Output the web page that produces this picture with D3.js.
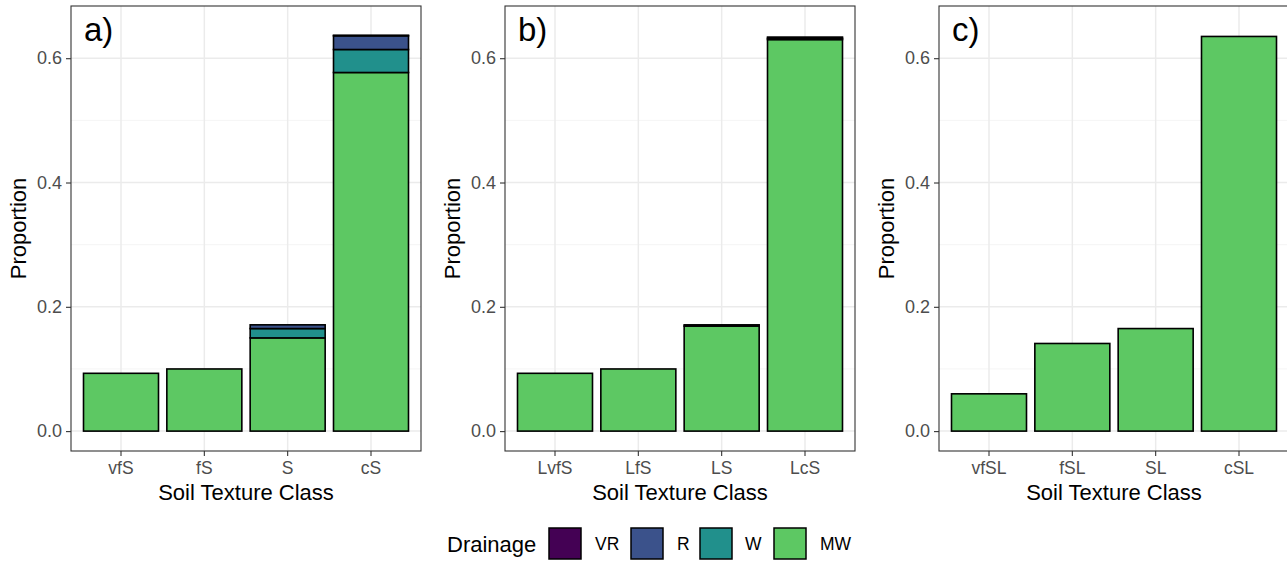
<!DOCTYPE html>
<html>
<head>
<meta charset="utf-8">
<script src="https://cdn.jsdelivr.net/npm/d3@7"></script>
<style>
  body { margin: 0; background: #fff; }
  text { font-family: "Liberation Sans", Arial, sans-serif; }
</style>
</head>
<body>
<script>
// drainage classes, stacked bottom (MW) to top (VR)
var drainage = ["VR", "R", "W", "MW"];
var drainageColors = ["#440154", "#3B528B", "#21908C", "#5DC863"];

var panelLabels = ["a)", "b)", "c)"];
var classesA = ["vfS", "fS", "S", "cS"];
var classesB = ["LvfS", "LfS", "LS", "LcS"];
var classesC = ["vfSL", "fSL", "SL", "cSL"];

// proportions per class, one array per drainage class
var aMW = [0.093, 0.100, 0.150, 0.577];
var aW  = [0, 0, 0.015, 0.037];
var aR  = [0, 0, 0.006, 0.022];
var aVR = [0, 0, 0.000, 0.001];

var bMW = [0.093, 0.100, 0.169, 0.630];
var bW  = [0, 0, 0, 0.002];
var bR  = [0, 0, 0.002, 0.002];
var bVR = [0, 0, 0, 0];

var cMW = [0.060, 0.141, 0.165, 0.635];
var cW  = [0, 0, 0, 0];
var cR  = [0, 0, 0, 0];
var cVR = [0, 0, 0, 0];

var yTicks = [0, 0.2, 0.4, 0.6];
var yMinor = [0.1, 0.3, 0.5];

function buildRows(classes, mw, w, r, vr) {
  return classes.map(function (c, i) {
    return { cls: c, MW: mw[i], W: w[i], R: r[i], VR: vr[i] };
  });
}

var panels = [
  { label: panelLabels[0], classes: classesA, rows: buildRows(classesA, aMW, aW, aR, aVR) },
  { label: panelLabels[1], classes: classesB, rows: buildRows(classesB, bMW, bW, bR, bVR) },
  { label: panelLabels[2], classes: classesC, rows: buildRows(classesC, cMW, cW, cR, cVR) }
];

var W = 1287, H = 561;
var svg = d3.select("body").append("svg").attr("width", W).attr("height", H);

var panelX = [71, 505, 939];
var pw = 350, plotTop = 6, plotBottom = 451;

var y = d3.scaleLinear().domain([-0.032, 0.684]).range([plotBottom, plotTop]);
var color = d3.scaleOrdinal().domain(drainage).range(drainageColors);
var stack = d3.stack().keys(["MW", "W", "R", "VR"]);

panels.forEach(function (p, k) {
  var x0 = panelX[k];
  var x = d3.scaleBand().domain(p.classes).range([x0, x0 + pw])
    .paddingInner(0.1).paddingOuter(0.15);
  var g = svg.append("g");

  // grid
  g.selectAll(".minor").data(yMinor).enter().append("line")
    .attr("x1", x0).attr("x2", x0 + pw)
    .attr("y1", y).attr("y2", y)
    .attr("stroke", "#F2F2F2").attr("stroke-width", 0.8);
  g.selectAll(".major").data(yTicks).enter().append("line")
    .attr("x1", x0).attr("x2", x0 + pw)
    .attr("y1", y).attr("y2", y)
    .attr("stroke", "#EBEBEB").attr("stroke-width", 1.5);
  g.selectAll(".vgrid").data(p.classes).enter().append("line")
    .attr("x1", function (d) { return x(d) + x.bandwidth() / 2; })
    .attr("x2", function (d) { return x(d) + x.bandwidth() / 2; })
    .attr("y1", plotTop).attr("y2", plotBottom)
    .attr("stroke", "#EBEBEB").attr("stroke-width", 1.5);

  // bars
  var series = stack(p.rows);
  series.forEach(function (s) {
    g.selectAll(null).data(s.filter(function (d) { return d[1] - d[0] > 0; }))
      .enter().append("rect")
      .attr("x", function (d) { return x(d.data.cls); })
      .attr("width", x.bandwidth())
      .attr("y", function (d) { return y(d[1]); })
      .attr("height", function (d) { return y(d[0]) - y(d[1]); })
      .attr("fill", color(s.key))
      .attr("stroke", "#000").attr("stroke-width", 1.6);
  });

  // border
  g.append("rect").attr("x", x0).attr("y", plotTop).attr("width", pw).attr("height", plotBottom - plotTop)
    .attr("fill", "none").attr("stroke", "#333333").attr("stroke-width", 1.1);

  // y axis
  var ya = g.append("g").attr("transform", "translate(" + x0 + ",0)")
    .call(d3.axisLeft(y).tickValues(yTicks).tickFormat(d3.format(".1f")).tickSize(5).tickPadding(4));
  ya.select(".domain").remove();
  ya.selectAll("line").attr("stroke", "#333333").attr("stroke-width", 1.1);
  ya.selectAll("text").attr("fill", "#4D4D4D").style("font-size", "18px")
    .style("font-family", "Liberation Sans, Arial, sans-serif");

  // x axis
  var xa = g.append("g").attr("transform", "translate(0," + plotBottom + ")")
    .call(d3.axisBottom(x).tickSize(5).tickPadding(6));
  xa.select(".domain").remove();
  xa.selectAll("line").attr("stroke", "#333333").attr("stroke-width", 1.1);
  xa.selectAll("text").attr("fill", "#4D4D4D").style("font-size", "17.5px")
    .style("font-family", "Liberation Sans, Arial, sans-serif");

  // titles
  g.append("text").attr("x", x0 + pw / 2).attr("y", 500)
    .attr("text-anchor", "middle").style("font-size", "22px").attr("fill", "#000")
    .text("Soil Texture Class");
  g.append("text")
    .attr("transform", "translate(" + (x0 - 45) + "," + ((plotTop + plotBottom) / 2) + ") rotate(-90)")
    .attr("text-anchor", "middle").style("font-size", "22px").attr("fill", "#000")
    .text("Proportion");
  g.append("text").attr("x", x0 + 13).attr("y", 41)
    .style("font-size", "33px").attr("fill", "#000").text(p.label);
});

// legend
var leg = svg.append("g");
leg.append("text").attr("x", 447).attr("y", 552).style("font-size", "22px").text("Drainage");
var keyX = [549, 631, 700, 774];
var labX = [595, 677, 745, 820];
drainage.forEach(function (d, i) {
  leg.append("rect").attr("x", keyX[i]).attr("y", 528).attr("width", 32).attr("height", 31)
    .attr("fill", color(d)).attr("stroke", "#000").attr("stroke-width", 1.5);
  leg.append("text").attr("x", labX[i]).attr("y", 550).style("font-size", "17.5px")
    .attr("fill", "#000").text(d);
});
</script>
</body>
</html>
